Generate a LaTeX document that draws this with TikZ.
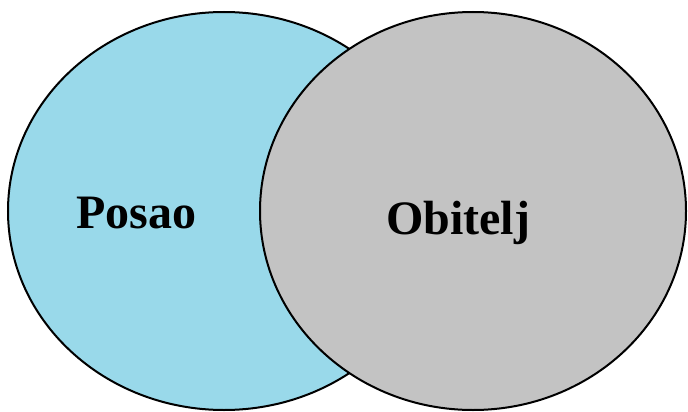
\documentclass[tikz,border=0pt]{standalone}
\usepackage{fontspec}
\setmainfont{Liberation Serif}
\definecolor{vblue}{HTML}{99D9EA}
\definecolor{vgray}{HTML}{C3C3C3}
\tikzset{
  setshape/.style={draw=black, line width=2pt},
  setlabel/.style={font=\fontsize{48}{52}\selectfont\bfseries, text=black, inner sep=0pt, anchor=base}
}
\begin{document}
\begin{tikzpicture}[x=1pt,y=-1pt]
  \useasboundingbox (0,0) rectangle (688,412);
  \fill[white] (0,0) rectangle (688,412);
  \draw[setshape, fill=vblue] (224,211) ellipse [x radius=216, y radius=199];
  \draw[setshape, fill=vgray] (473,211) ellipse [x radius=213, y radius=199];
  \node[setlabel] (posao) at (136,228) {Posao};
  \node[setlabel] (obitelj) at (458,234) {Obitelj};
\end{tikzpicture}
\end{document}
